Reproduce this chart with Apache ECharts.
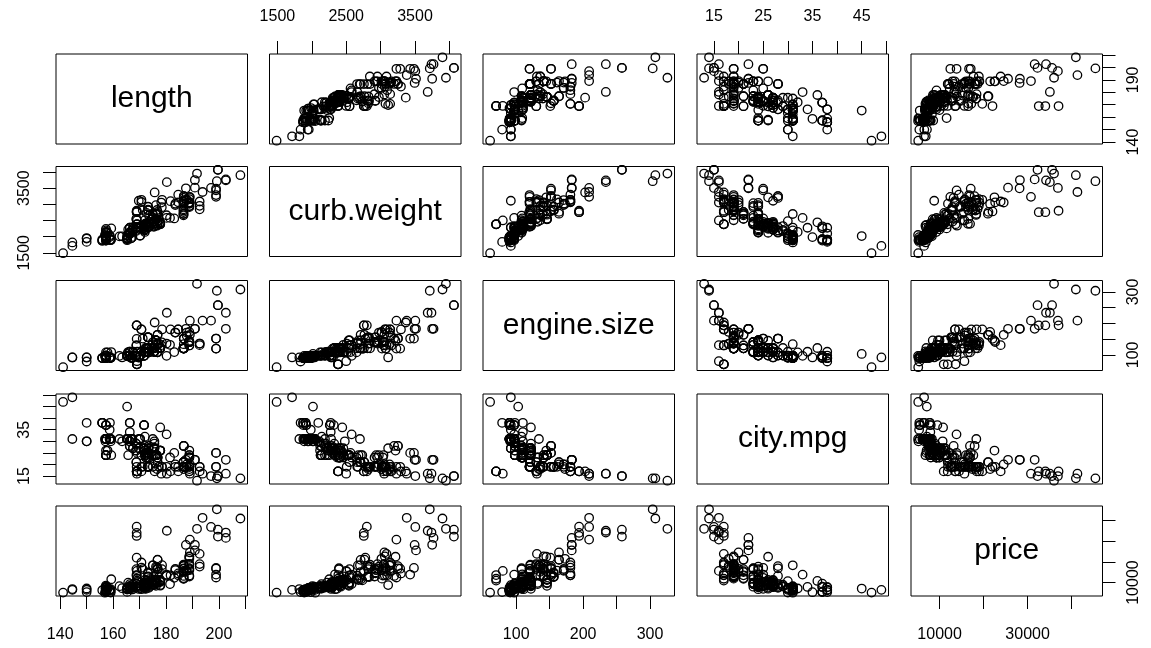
<!DOCTYPE html>
<html>
<head>
<meta charset="utf-8">
<title>pairs</title>
<script src="https://cdn.jsdelivr.net/npm/echarts@6/dist/echarts.min.js"></script>
<style>
    html, body { margin: 0; padding: 0; background: #fff; }
    #chart { width: 1151px; height: 648px; }
</style>
</head>
<body>
<div id="chart"></div>
<script>
// automobile data, one value per car
const lengthVals = [
    168.8, 168.8, 171.2, 176.6, 176.6, 177.3, 192.7, 192.7, 192.7, 178.2,
    176.8, 176.8, 176.8, 176.8, 189.0, 189.0, 193.8, 197.0, 141.1, 155.9,
    158.8, 157.3, 157.3, 157.3, 157.3, 157.3, 157.3, 157.3, 174.6, 173.2,
    144.6, 144.6, 150.0, 150.0, 150.0, 163.4, 157.1, 167.5, 167.5, 175.4,
    175.4, 175.4, 169.1, 170.7, 155.9, 155.9, 172.6, 199.6, 199.6, 191.7,
    159.1, 159.1, 159.1, 166.8, 166.8, 169.0, 169.0, 169.0, 169.0, 177.8,
    177.8, 177.8, 177.8, 177.8, 177.8, 175.0, 175.0, 190.9, 190.9, 187.5,
    202.6, 202.6, 180.3, 208.1, 199.2, 178.4, 157.3, 157.3, 157.3, 157.3,
    173.0, 173.0, 173.2, 173.2, 173.2, 172.4, 172.4, 172.4, 172.4, 165.3,
    165.3, 165.3, 165.3, 170.2, 165.3, 165.6, 165.3, 170.2, 162.4, 173.4,
    173.4, 181.7, 184.6, 184.6, 170.7, 170.7, 178.5, 186.7, 186.7, 198.9,
    198.9, 186.7, 186.7, 198.9, 198.9, 186.7, 186.7, 186.7, 157.3, 157.3,
    157.3, 167.3, 167.3, 174.6, 173.2, 168.9, 168.9, 168.9, 168.9, 175.7,
    181.5, 176.8, 186.6, 186.6, 186.6, 186.6, 186.6, 186.6, 156.9, 157.9,
    157.3, 172.0, 172.0, 172.0, 172.0, 172.0, 173.5, 173.5, 173.6, 173.6,
    158.7, 158.7, 158.7, 169.7, 169.7, 169.7, 166.3, 166.3, 166.3, 166.3,
    166.3, 166.3, 166.3, 168.7, 168.7, 168.7, 168.7, 176.2, 176.2, 176.2,
    176.2, 176.2, 176.2, 175.6, 175.6, 175.6, 175.6, 175.6, 183.5, 183.5,
    187.8, 187.8, 171.7, 171.7, 171.7, 171.7, 171.7, 171.7, 171.7, 159.3,
    165.7, 180.2, 180.2, 183.1, 188.8, 188.8, 188.8, 188.8, 188.8, 188.8,
    188.8, 188.8, 188.8, 188.8, 188.8
];
const curbWeight = [
    2548, 2548, 2823, 2337, 2824, 2507, 2844, 2954, 3086, 3053,
    2395, 2395, 2710, 2765, 3055, 3230, 3380, 3505, 1488, 1874,
    1909, 1876, 1876, 2128, 1967, 1989, 1989, 2191, 2535, 2811,
    1713, 1819, 1837, 1940, 1956, 2010, 2024, 2236, 2289, 2304,
    2372, 2465, 2293, 2337, 1874, 1909, 2734, 4066, 4066, 3950,
    1890, 1900, 1905, 1945, 1950, 2380, 2380, 2385, 2500, 2385,
    2410, 2385, 2410, 2443, 2425, 2670, 2700, 3515, 3750, 3495,
    3770, 3740, 3685, 3900, 3715, 2910, 1918, 1944, 2004, 2145,
    2370, 2328, 2833, 2921, 2926, 2365, 2405, 2403, 2403, 1889,
    2017, 1918, 1938, 2024, 1951, 2028, 1971, 2037, 2008, 2324,
    2302, 3095, 3296, 3060, 3071, 3139, 3139, 3020, 3197, 3230,
    3430, 3075, 3252, 3285, 3485, 3075, 3252, 3130, 1918, 2128,
    1967, 1989, 2191, 2535, 2818, 2778, 2756, 2756, 2800, 3366,
    2579, 2460, 2658, 2695, 2707, 2758, 2808, 2847, 2050, 2120,
    2240, 2145, 2190, 2340, 2385, 2510, 2290, 2455, 2420, 2650,
    1985, 2040, 2015, 2280, 2290, 3110, 2081, 2109, 2275, 2275,
    2094, 2122, 2140, 2169, 2204, 2265, 2300, 2540, 2536, 2551,
    2679, 2714, 2975, 2326, 2480, 2414, 2414, 2458, 2976, 3016,
    3131, 3151, 2261, 2209, 2264, 2212, 2275, 2319, 2300, 2254,
    2221, 2661, 2579, 2563, 2912, 3034, 2935, 3042, 3045, 3157,
    2952, 3049, 3012, 3217, 3062
];
const engineSize = [
    130, 130, 152, 109, 136, 136, 136, 136, 131, 131,
    108, 108, 164, 164, 164, 209, 209, 209, 61, 90,
    90, 90, 90, 98, 90, 90, 90, 98, 122, 156,
    92, 92, 79, 92, 92, 92, 92, 110, 110, 110,
    110, 110, 110, 111, 90, 90, 119, 258, 258, 326,
    91, 91, 91, 91, 91, 70, 70, 70, 80, 122,
    122, 122, 122, 122, 122, 140, 134, 183, 183, 183,
    183, 234, 234, 308, 304, 140, 92, 92, 92, 98,
    110, 122, 156, 156, 156, 122, 122, 110, 110, 97,
    103, 97, 97, 97, 97, 97, 97, 97, 97, 120,
    120, 181, 181, 181, 181, 181, 181, 120, 152, 120,
    152, 120, 152, 120, 152, 120, 152, 134, 90, 98,
    90, 90, 98, 122, 156, 151, 194, 194, 194, 203,
    132, 132, 121, 121, 121, 121, 121, 121, 97, 108,
    108, 108, 108, 108, 108, 108, 108, 108, 108, 108,
    92, 92, 92, 92, 92, 92, 98, 98, 110, 110,
    98, 98, 98, 98, 98, 98, 98, 146, 146, 146,
    146, 146, 146, 122, 110, 122, 122, 122, 171, 171,
    171, 161, 97, 109, 97, 109, 109, 97, 109, 109,
    109, 136, 97, 109, 141, 141, 141, 141, 130, 130,
    141, 141, 173, 145, 141
];
const cityMpg = [
    21, 21, 19, 24, 18, 19, 19, 19, 17, 16,
    23, 23, 21, 21, 20, 16, 16, 15, 47, 38,
    38, 37, 31, 24, 31, 31, 31, 24, 24, 19,
    49, 31, 38, 30, 30, 30, 30, 27, 27, 27,
    27, 24, 25, 24, 38, 38, 24, 15, 15, 13,
    30, 31, 31, 31, 31, 17, 17, 17, 16, 26,
    26, 26, 26, 36, 26, 19, 31, 22, 22, 22,
    22, 16, 16, 14, 14, 19, 37, 31, 31, 24,
    23, 25, 19, 19, 19, 25, 25, 23, 23, 31,
    45, 31, 31, 31, 31, 31, 31, 31, 31, 27,
    27, 17, 17, 19, 19, 17, 19, 19, 28, 19,
    25, 19, 28, 19, 25, 19, 28, 18, 37, 24,
    31, 31, 31, 24, 19, 19, 17, 17, 17, 17,
    23, 23, 21, 21, 21, 21, 19, 19, 31, 26,
    26, 32, 28, 26, 24, 24, 28, 25, 23, 23,
    35, 31, 31, 31, 27, 27, 30, 30, 34, 38,
    38, 28, 28, 29, 29, 26, 26, 24, 24, 24,
    24, 24, 24, 29, 30, 27, 27, 27, 20, 19,
    20, 19, 37, 27, 37, 27, 27, 37, 26, 24,
    24, 19, 33, 25, 23, 23, 24, 24, 17, 17,
    23, 19, 18, 26, 19
];
const price = [
    13495, 16500, 16500, 13950, 17450, 15250, 17710, 18920, 23875, null,
    16430, 16925, 20970, 21105, 24565, 30760, 41315, 36880, 5151, 6295,
    6575, 5572, 6377, 7957, 6229, 6692, 7609, 8558, 8921, 12964,
    6479, 6855, 5399, 6529, 7129, 7295, 7295, 7895, 9095, 8845,
    10295, 12945, 10345, 6785, null, null, 11048, 32250, 35550, 36000,
    5195, 6095, 6795, 6695, 7395, 10945, 11845, 13645, 15645, 8845,
    8495, 10595, 10245, 10795, 11245, 18280, 18344, 25552, 28248, 28176,
    31600, 34184, 35056, 40960, 45400, 16503, 5389, 6189, 6669, 7689,
    9959, 8499, 12629, 14869, 14489, 6989, 8189, 9279, 9279, 5499,
    7099, 6649, 6849, 7349, 7299, 7799, 7499, 7999, 8249, 8949,
    9549, 13499, 14399, 13499, 17199, 19699, 18399, 11900, 13200, 12440,
    13860, 15580, 16900, 16695, 17075, 16630, 17950, 18150, 5572, 7957,
    6229, 6692, 7609, 8921, 12764, 22018, 32528, 34028, 37028, null,
    9295, 9895, 11850, 12170, 15040, 15510, 18150, 18620, 5118, 7053,
    7603, 7126, 7775, 9960, 9233, 11259, 7463, 10198, 8013, 11694,
    5348, 6338, 6488, 6918, 7898, 8778, 6938, 7198, 7898, 7788,
    7738, 8358, 9258, 8058, 8238, 9298, 9538, 8449, 9639, 9989,
    11199, 11549, 17669, 8948, 10698, 9988, 10898, 11248, 16558, 15998,
    15690, 15750, 7775, 7975, 7995, 8195, 8495, 9495, 9995, 11595,
    9980, 13295, 13845, 12290, 12940, 13415, 15985, 16515, 18420, 18950,
    16845, 19045, 21485, 22470, 22625
];

const varNames = ['length', 'curb.weight', 'engine.size', 'city.mpg', 'price'];
const columns = [lengthVals, curbWeight, engineSize, cityMpg, price];

// tick marks, labels on the top/bottom edge, labels on the left/right edge
const tickValues = [
    [140, 150, 160, 170, 180, 190, 200, 210],
    [1500, 2000, 2500, 3000, 3500, 4000],
    [100, 150, 200, 250, 300],
    [15, 20, 25, 30, 35, 40, 45, 50],
    [10000, 20000, 30000, 40000]
];
const horizLabels = [
    [140, 160, 180, 200],
    [1500, 2500, 3500],
    [100, 200, 300],
    [15, 25, 35, 45],
    [10000, 30000]
];
const vertLabels = [
    [140, 190],
    [1500, 3500],
    [100, 300],
    [15, 35],
    [10000]
];

// panel layout
const colLeft = [56, 269.5, 483, 697, 911];
const rowTop = [54, 166.5, 280.5, 394, 506];
const panelW = 191.5;
const panelH = 90;
const tickLen = 13;
const fontFamily = '"Liberation Sans", Arial, sans-serif';

function extRange(arr) {
    let vals = arr.filter(v => v !== null);
    let lo = Math.min(...vals), hi = Math.max(...vals);
    let pad = (hi - lo) * 0.04;
    return [lo - pad, hi + pad];
}

const ranges = columns.map(extRange);
const plainNum = v => String(v);

let grids = [], xAxes = [], yAxes = [], series = [], graphics = [];
let n = varNames.length;

for (let i = 0; i < n; i++) {
    for (let j = 0; j < n; j++) {
        let k = i * n + j;

        grids.push({
            left: colLeft[j],
            top: rowTop[i],
            width: panelW,
            height: panelH,
            show: true,
            borderColor: '#000',
            borderWidth: 1,
            backgroundColor: 'transparent'
        });

        let xPos = null;
        if (i === 0 && j % 2 === 1) xPos = 'top';
        if (i === n - 1 && j % 2 === 0) xPos = 'bottom';
        let yPos = null;
        if (j === 0 && i % 2 === 1) yPos = 'left';
        if (j === n - 1 && i % 2 === 0) yPos = 'right';

        xAxes.push({
            type: 'value',
            gridIndex: k,
            min: ranges[j][0],
            max: ranges[j][1],
            position: xPos || 'bottom',
            axisLine: { show: false },
            splitLine: { show: false },
            axisTick: {
                show: !!xPos,
                inside: false,
                length: tickLen,
                customValues: tickValues[j],
                lineStyle: { color: '#000', width: 1 }
            },
            axisLabel: {
                show: !!xPos,
                customValues: horizLabels[j],
                formatter: plainNum,
                margin: xPos === 'bottom' ? 31 : 29,
                color: '#000',
                fontSize: 16,
                fontFamily: fontFamily
            }
        });

        yAxes.push({
            type: 'value',
            gridIndex: k,
            min: ranges[i][0],
            max: ranges[i][1],
            position: yPos || 'left',
            axisLine: { show: false },
            splitLine: { show: false },
            axisTick: {
                show: !!yPos,
                inside: false,
                length: tickLen,
                customValues: tickValues[i],
                lineStyle: { color: '#000', width: 1 }
            },
            axisLabel: {
                show: !!yPos,
                customValues: vertLabels[i],
                formatter: plainNum,
                rotate: 90,
                margin: 23,
                color: '#000',
                fontSize: 16,
                fontFamily: fontFamily
            }
        });

        if (i === j) {
            graphics.push({
                type: 'text',
                x: colLeft[j] + panelW / 2,
                y: rowTop[i] + panelH / 2,
                style: {
                    text: varNames[i],
                    fill: '#000',
                    font: '30px ' + fontFamily,
                    align: 'center',
                    verticalAlign: 'middle'
                }
            });
            continue;
        }

        let pts = [];
        columns[j].forEach((xv, r) => {
            let yv = columns[i][r];
            if (xv !== null && yv !== null) pts.push([xv, yv]);
        });

        series.push({
            type: 'scatter',
            xAxisIndex: k,
            yAxisIndex: k,
            data: pts,
            symbol: 'circle',
            symbolSize: 8.5,
            silent: true,
            itemStyle: {
                color: 'rgba(0,0,0,0)',
                borderColor: '#000',
                borderWidth: 1.3,
                opacity: 1
            }
        });
    }
}

let chart = echarts.init(document.getElementById('chart'), null, { renderer: 'canvas' });
chart.setOption({
    animation: false,
    backgroundColor: '#fff',
    grid: grids,
    xAxis: xAxes,
    yAxis: yAxes,
    series: series,
    graphic: graphics
});
</script>
</body>
</html>
